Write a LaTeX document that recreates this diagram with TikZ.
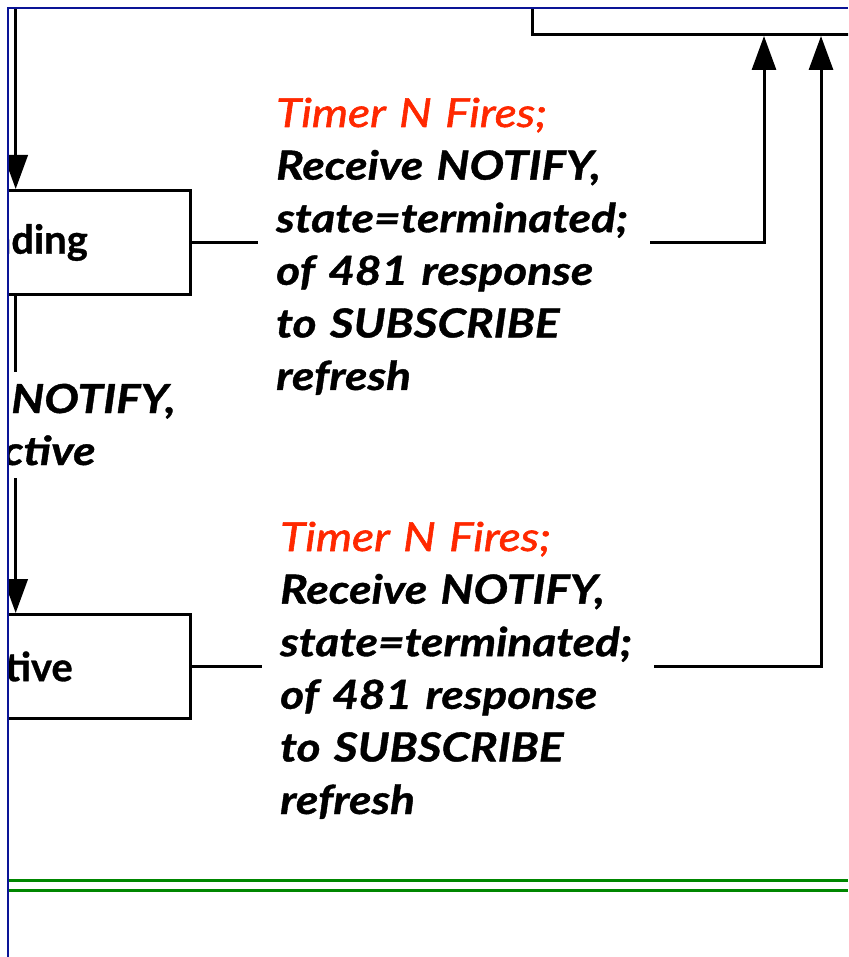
\documentclass[tikz,border=0pt]{standalone}
\usepackage{fontspec}
\setmainfont{Lato}
\newfontfamily\evtfont{Lato}[FakeStretch=1.15, FakeBold=1]
\newfontfamily\firefont{Lato}[FakeStretch=1.15, FakeBold=1.5]
\newfontfamily\boxfont{Lato}[FakeBold=0.8]
\usetikzlibrary{arrows.meta}
\definecolor{frameblue}{RGB}{10,20,150}
\definecolor{rulegreen}{RGB}{0,135,0}
\definecolor{firered}{RGB}{255,40,0}
\tikzset{
  statebox/.style={draw=black, line width=3pt, minimum width=350pt, minimum height=104pt,
    inner sep=0pt, font=\boxfont\fontsize{40}{48}\selectfont\bfseries},
  conn/.style={draw=black, line width=3pt},
  arr/.style={conn, -{Triangle[length=34pt,width=24pt]}},
  evt/.style={anchor=base west, text width=356pt, align=left, inner xsep=18pt, inner ysep=0pt,
    font=\evtfont\fontsize{40}{52.6}\selectfont\bfseries\itshape},
}
\begin{document}
\begin{tikzpicture}[x=1pt,y=-1pt]
\useasboundingbox (0,0) rectangle (848,957);
\begin{scope}
\clip (8,8) rectangle (848,957);
% top state box (clipped)
\node[draw=black, line width=3pt, anchor=south west, minimum width=400pt, minimum height=100pt, inner sep=0pt] (sub) at (530.7,36) {};
\coordinate (in1) at (764,36);
\coordinate (in2) at (821,36);
% states
\node[statebox] (pend) at (15.7,242.5) {Pending};
\node[statebox] (act) at (15.7,666.5) {Active};
% event texts
\node[evt] (t1) at (258,127) {{\firefont\color{firered}\mdseries\itshape Timer N Fires;}\\Receive NOTIFY,\\state=terminated;\\of 481 response\\to SUBSCRIBE\\refresh};
\node[evt] (t2) at (262,551) {{\firefont\color{firered}\mdseries\itshape Timer N Fires;}\\Receive NOTIFY,\\state=terminated;\\of 481 response\\to SUBSCRIBE\\refresh};
% left transition label
\node[anchor=base west, align=left, inner sep=0pt, font=\evtfont\fontsize{40}{52}\selectfont\bfseries\itshape] (lab) at (-146,465) {Receive NOTIFY,\\state=active};
\coordinate (top) at (15.7,0);
\coordinate (g1) at (15.7,372);
\coordinate (g2) at (15.7,478);
% connectors
\draw[arr] (top) -- (pend.north);
\draw[conn] (pend.south) -- (g1);
\draw[arr] (g2) -- (act.north);
\draw[conn] (pend.east) -- (pend.east -| t1.west);
\draw[arr] (pend.east -| t1.east) -| (in1);
\draw[conn] (act.east) -- (act.east -| t2.west);
\draw[arr] (act.east -| t2.east) -| (in2);
\end{scope}
% green rules
\draw[rulegreen, line width=3pt] (8,880) -- (848,880);
\draw[rulegreen, line width=3pt] (8,890.7) -- (848,890.7);
% blue frame
\draw[frameblue, line width=1.5pt] (8,957) -- (8,8) -- (848,8);
\end{tikzpicture}
\end{document}
